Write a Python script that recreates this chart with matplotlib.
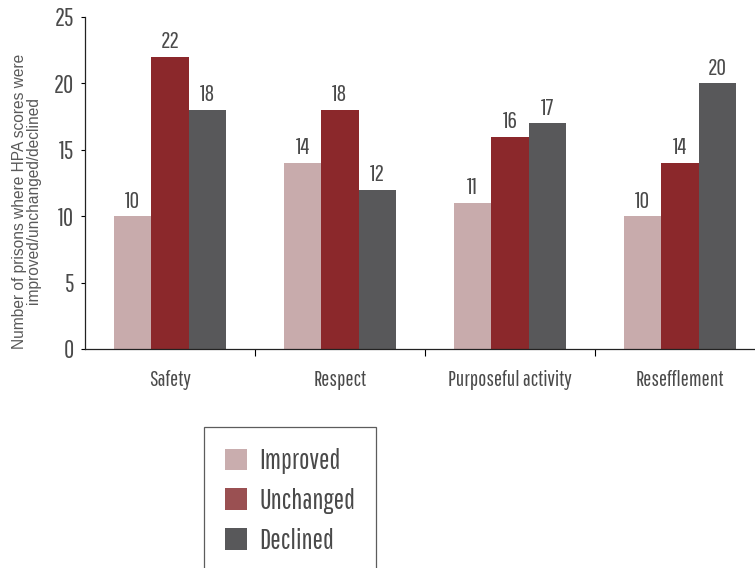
import matplotlib
matplotlib.use("Agg")
import matplotlib.pyplot as plt
from matplotlib.patches import Patch
from matplotlib import font_manager
import numpy as np

categories = ["Safety", "Respect", "Purposeful activity", "Resefflement"]
series_names = ["Improved", "Unchanged", "Declined"]
improved = [10, 14, 11, 10]
unchanged = [22, 18, 16, 14]
declined = [18, 12, 17, 20]
y_ticks = [0, 5, 10, 15, 20, 25]

bar_colors = ["#c8abac", "#8b282b", "#58585a"]
legend_colors = ["#c9adae", "#9a5052", "#58585a"]
text_color = "#4a4a4a"

# condensed gothic face for most text, a plain sans for the axis title
names = {f.name for f in font_manager.fontManager.ttflist}
preferred = ["Pathway Gothic One", "Roboto Condensed", "Archivo Narrow",
             "PT Sans Narrow", "Open Sans Condensed", "Liberation Sans Narrow"]
chosen = [n for n in preferred if n in names][:1]
plt.rcParams["font.family"] = chosen + ["DejaVu Sans"]
title_family = ["Liberation Sans", "DejaVu Sans"]

W, H = 755, 568
fig = plt.figure(figsize=(W / 100, H / 100), dpi=100)
ax = fig.add_axes([85 / W, (H - 349) / H, (W - 85) / W, (349 - 17) / H])

x = np.arange(len(categories))
width = 0.22
series = [improved, unchanged, declined]
for i, (vals, col) in enumerate(zip(series, bar_colors)):
    pos = x + (i - 1) * width
    bars = ax.bar(pos, vals, width=width, color=col, edgecolor="none", zorder=2)
    for b, v in zip(bars, vals):
        ax.text(b.get_x() + b.get_width() / 2, v + 0.35, f"{v}",
                ha="center", va="bottom", fontsize=17, color=text_color)

ax.set_xlim(-0.5, -0.5 + (W - 85) / 170)
ax.set_ylim(0, 25)
ax.set_yticks(y_ticks)
ax.tick_params(axis="y", labelsize=18, labelcolor=text_color, length=3, width=0.8, pad=5)

ax.set_xticks(x)
ax.set_xticklabels(categories)
ax.tick_params(axis="x", which="major", length=0, labelsize=15.5, labelcolor=text_color, pad=15)
ax.set_xticks(x[:-1] + 0.5, minor=True)
ax.tick_params(axis="x", which="minor", length=5, width=0.8, direction="out")

for s in ["top", "right"]:
    ax.spines[s].set_visible(False)
for s in ["left", "bottom"]:
    ax.spines[s].set_linewidth(0.9)
    ax.spines[s].set_color("#222222")

ax.set_ylabel("Number of prisons where HPA scores were\nimproved/unchanged/declined",
              fontsize=11.2, color="#595959", linespacing=0.9,
              family=title_family)
ax.yaxis.set_label_coords(-0.066, 0.446)

handles = [Patch(facecolor=c, edgecolor="none", label=n) for c, n in zip(legend_colors, series_names)]
leg = fig.legend(handles=handles, loc="upper left",
                 bbox_to_anchor=(204 / W, 1 - 427 / H), frameon=True, fancybox=False,
                 fontsize=20, labelcolor=text_color, handlelength=0.8, handleheight=0.8,
                 handletextpad=0.45, labelspacing=0.5, borderpad=0.75, borderaxespad=0)
leg.get_frame().set_edgecolor("#333333")
leg.get_frame().set_linewidth(0.9)

fig.savefig("out.png", dpi=100)
